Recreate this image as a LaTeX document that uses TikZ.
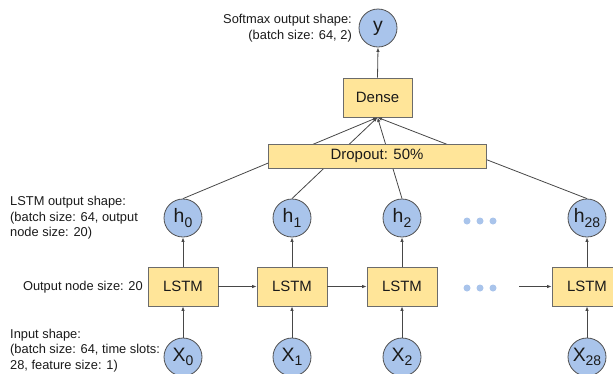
\documentclass[tikz,border=0pt]{standalone}
\usepackage{fontspec}
\setmainfont{Liberation Sans}
\usetikzlibrary{arrows.meta}
\definecolor{boxfill}{HTML}{FFE599}
\definecolor{boxdraw}{HTML}{6B6B6B}
\definecolor{circfill}{HTML}{A9C4EB}
\definecolor{circdraw}{HTML}{505050}
\definecolor{txt}{HTML}{1A1A1A}
\definecolor{dotc}{HTML}{A9C4EB}
\newcommand{\mysub}[1]{\raisebox{-0.4ex}{\fontsize{14}{14}\selectfont #1}}
\tikzset{
  lbl/.style={inner sep=0pt, text=txt, font=\fontsize{12.9}{15.5}\selectfont},
  boxnode/.style={draw=boxdraw, fill=boxfill, line width=0.8bp, text=txt,
    font=\fontsize{15}{15}\selectfont, inner sep=0pt},
  circnode/.style={circle, draw=circdraw, fill=circfill, line width=0.8bp,
    minimum size=38bp, inner sep=0pt, text=txt, font=\fontsize{19.5}{19.5}\selectfont},
  conn/.style={draw=black!72, line width=0.8bp},
  arr/.style={conn, -{Latex[length=4.5bp,width=3.5bp]}},
  dotnode/.style={circle, fill=dotc, minimum size=7bp, inner sep=0pt}
}
\begin{document}
\begin{tikzpicture}[x=1bp,y=-1bp]
\useasboundingbox (0,0) rectangle (613,373);
\clip (0,0) rectangle (613,373);
% output
\node[circnode] (y) at (378,28) {y};
\node[boxnode, minimum width=69bp, minimum height=39bp] (dense) at (377.5,97.5) {Dense};
% h nodes
\node[circnode] (h0) at (183,218) {h\mysub{0}};
\node[circnode] (h1) at (292,218) {h\mysub{1}};
\node[circnode] (h2) at (402,218) {h\mysub{2}};
\node[circnode] (h28) at (587,218) {h\mysub{28}};
% lines h -> dense (behind dropout)
\draw[arr] (h0.north) -- (dense.south);
\draw[arr] (h1.north) -- (dense.south);
\draw[arr] (h2.north) -- (dense.south);
\draw[arr] (h28.north) -- (dense.south);
\node[boxnode, minimum width=218bp, minimum height=24bp] (drop) at (377,156) {Dropout: 50\%};
\draw[arr] (dense.north) -- (y.south);
% LSTM boxes
\node[boxnode, minimum width=70bp, minimum height=39bp] (l0) at (183,286.5) {LSTM};
\node[boxnode, minimum width=70bp, minimum height=39bp] (l1) at (292,286.5) {LSTM};
\node[boxnode, minimum width=70bp, minimum height=39bp] (l2) at (402,286.5) {LSTM};
\node[boxnode, minimum width=70bp, minimum height=39bp] (l28) at (587,286.5) {LSTM};
% X nodes
\node[circnode] (x0) at (183,357) {X\mysub{0}};
\node[circnode] (x1) at (292,357) {X\mysub{1}};
\node[circnode] (x2) at (402,357) {X\mysub{2}};
\node[circnode] (x28) at (587,357) {X\mysub{28}};
% vertical arrows
\foreach \i in {0,1,2,28}{
  \draw[arr] (x\i.north) -- (l\i.south);
  \draw[arr] (l\i.north) -- (h\i.south);
}
% horizontal arrows
\draw[arr] (l0.east) -- (l1.west);
\draw[arr] (l1.east) -- (l2.west);
\coordinate (lin) at (519,286.5);
\draw[arr] (lin) -- (l28.west);
% dots
\node[dotnode] (d1) at (467,221) {};
\node[dotnode] (d2) at (480,221) {};
\node[dotnode] (d3) at (493,221) {};
\node[dotnode] (e1) at (467,288) {};
\node[dotnode] (e2) at (480,288) {};
\node[dotnode] (e3) at (493,288) {};
% labels
\node[lbl, anchor=east, align=right] (tsoft) at (352,28) {Softmax output shape:\\(batch size: 64, 2)};
\node[lbl, anchor=west, align=left] (tlstm) at (10,218) {LSTM output shape:\\(batch size: 64, output\\node size: 20)};
\node[lbl, anchor=east] (tnode) at (143,287) {Output node size: 20};
\node[lbl, anchor=west, align=left] (tin) at (10,350.5) {Input shape:\\(batch size: 64, time slots:\\28, feature size: 1)};
\end{tikzpicture}
\end{document}
